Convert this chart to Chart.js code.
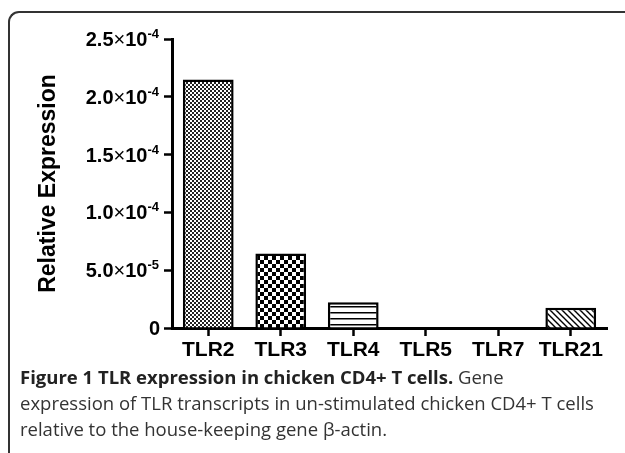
<!DOCTYPE html>
<html>
<head>
<meta charset="utf-8">
<script src="https://cdn.jsdelivr.net/npm/chart.js@4.4.0/dist/chart.umd.min.js"></script>
<style>
  html, body { margin: 0; padding: 0; background: #fff; }
  #wrap { position: relative; width: 625px; height: 453px; overflow: hidden; background: #fff; }
  #frame { position: absolute; left: 8px; top: 11px; width: 640px; height: 460px;
           border-top: 2px solid #333; border-left: 2px solid #333; border-top-left-radius: 11px; }
  #chartBox { position: absolute; left: 0; top: 0; width: 625px; height: 453px; }
  #caption { position: absolute; left: 20px; top: 364px; font-family: "Open Sans", sans-serif;
             font-size: 18.5px; line-height: 26px; color: #333; white-space: nowrap; }
  #caption b { color: #222; }
</style>
</head>
<body>
<div id="wrap">
  <div id="frame"></div>
  <div id="chartBox"><canvas id="c" width="625" height="453"></canvas></div>
  <div id="caption"><b>Figure 1 TLR expression in chicken CD4+ T cells.</b> Gene<br>expression of TLR transcripts in un-stimulated chicken CD4+ T cells<br>relative to the house-keeping gene β-actin.</div>
</div>
<script>
const categories = ["TLR2", "TLR3", "TLR4", "TLR5", "TLR7", "TLR21"];
const expression = [2.15e-4, 6.45e-5, 2.22e-5, 0, 0, 1.76e-5];
const yTickLabels = ["0", "5.0×10⁻⁵", "1.0×10⁻⁴", "1.5×10⁻⁴", "2.0×10⁻⁴", "2.5×10⁻⁴"];

function makePattern(kind) {
  const t = document.createElement('canvas');
  const g = t.getContext('2d');
  if (kind === 'fine') {
    t.width = 4; t.height = 4;
    g.fillStyle = '#fff'; g.fillRect(0, 0, 4, 4);
    g.fillStyle = '#222'; g.fillRect(0, 0, 2, 2); g.fillRect(2, 2, 2, 2);
  } else if (kind === 'coarse') {
    t.width = 8; t.height = 8;
    g.fillStyle = '#fff'; g.fillRect(0, 0, 8, 8);
    g.fillStyle = '#000'; g.fillRect(0, 0, 4, 4); g.fillRect(4, 4, 4, 4);
  } else if (kind === 'hlines') {
    t.width = 6; t.height = 6;
    g.fillStyle = '#fff'; g.fillRect(0, 0, 6, 6);
    g.fillStyle = '#000'; g.fillRect(0, 0, 6, 1.5);
  } else if (kind === 'diag') {
    t.width = 6; t.height = 6;
    g.fillStyle = '#fff'; g.fillRect(0, 0, 6, 6);
    g.strokeStyle = '#000'; g.lineWidth = 1.4;
    g.beginPath();
    g.moveTo(-1, -1); g.lineTo(7, 7);
    g.moveTo(-4, 2); g.lineTo(4, 10);
    g.moveTo(2, -4); g.lineTo(10, 4);
    g.stroke();
  } else {
    t.width = 1; t.height = 1;
    g.fillStyle = '#fff'; g.fillRect(0, 0, 1, 1);
  }
  return g.createPattern(t, 'repeat');
}
const patternKinds = ['fine', 'coarse', 'hlines', 'none', 'none', 'diag'];

const supMap = { '⁻': '-', '⁰': '0', '¹': '1', '²': '2', '³': '3', '⁴': '4', '⁵': '5', '⁶': '6', '⁷': '7', '⁸': '8', '⁹': '9' };

// Draws y tick labels (with real superscript exponents) at the positions given by the library's y scale
const sciTickPlugin = {
  id: 'sciTicks',
  afterDraw(chart) {
    const scale = chart.scales.y;
    const c = chart.ctx;
    const xRight = scale.right - 8 - 4;
    c.save();
    c.fillStyle = '#000';
    c.textBaseline = 'alphabetic';
    c.textAlign = 'left';
    scale.ticks.forEach((tick, i) => {
      const label = yTickLabels[i];
      const y = scale.getPixelForValue(tick.value);
      const base = y + 7;
      const idx = label.indexOf('×10');
      if (idx < 0) {
        c.font = 'bold 20px "Liberation Sans", Arial, sans-serif';
        const w = c.measureText(label).width;
        c.fillText(label, xRight - w, base);
        return;
      }
      const mant = label.slice(0, idx);
      const exp = label.slice(idx + 3).split('').map(ch => supMap[ch] || ch).join('');
      const fBold = 'bold 20px "Liberation Sans", Arial, sans-serif';
      const fTimes = '20px "Liberation Sans", Arial, sans-serif';
      const fSup = 'bold 13px "Liberation Sans", Arial, sans-serif';
      c.font = fSup; const wSup = c.measureText(exp).width;
      c.font = fBold; const wTen = c.measureText('10').width; const wMant = c.measureText(mant).width;
      c.font = fTimes; const wTimes = c.measureText('×').width;
      let x = xRight - wSup - 1;
      c.font = fSup; c.fillText(exp, x, base - 8);
      x -= wTen; c.font = fBold; c.fillText('10', x, base);
      x -= wTimes; c.font = fTimes; c.fillText('×', x, base);
      x -= wMant; c.font = fBold; c.fillText(mant, x, base);
    });
    c.restore();
  }
};

const ctx = document.getElementById('c').getContext('2d');
new Chart(ctx, {
  type: 'bar',
  data: {
    labels: categories,
    datasets: [{
      data: expression,
      backgroundColor: patternKinds.map(makePattern),
      borderColor: '#000',
      borderWidth: 2.5,
      borderSkipped: 'start',
      categoryPercentage: 1,
      barPercentage: 0.70
    }]
  },
  options: {
    responsive: false,
    animation: false,
    devicePixelRatio: 1,
    layout: { padding: { left: 31, right: 18, top: 39, bottom: 0 } },
    plugins: { legend: { display: false }, tooltip: { enabled: false } },
    scales: {
      x: {
        offset: true,
        grid: { offset: false, drawOnChartArea: false, drawTicks: true, tickLength: 8, tickWidth: 2.5, tickColor: '#000' },
        border: { display: true, color: '#000', width: 3 },
        ticks: { color: '#000', padding: 2, maxRotation: 0, font: { family: 'Liberation Sans', weight: 'bold', size: 21 } },
        afterFit: (s) => { s.height = 453 - 328; }
      },
      y: {
        min: 0, max: 2.5e-4,
        ticks: { display: false, stepSize: 5e-5, callback: (v, i) => yTickLabels[i] },
        grid: { drawOnChartArea: false, drawTicks: true, tickLength: 8, tickWidth: 2.5, tickColor: '#000' },
        border: { display: true, color: '#000', width: 3 },
        title: { display: true, text: 'Relative Expression', color: '#000', padding: { top: 4, bottom: 0 },
                 font: { family: 'Liberation Sans', weight: 'bold', size: 23 } },
        afterFit: (s) => { s.width = 172 - 31; }
      }
    }
  },
  plugins: [sciTickPlugin]
});
</script>
</body>
</html>
